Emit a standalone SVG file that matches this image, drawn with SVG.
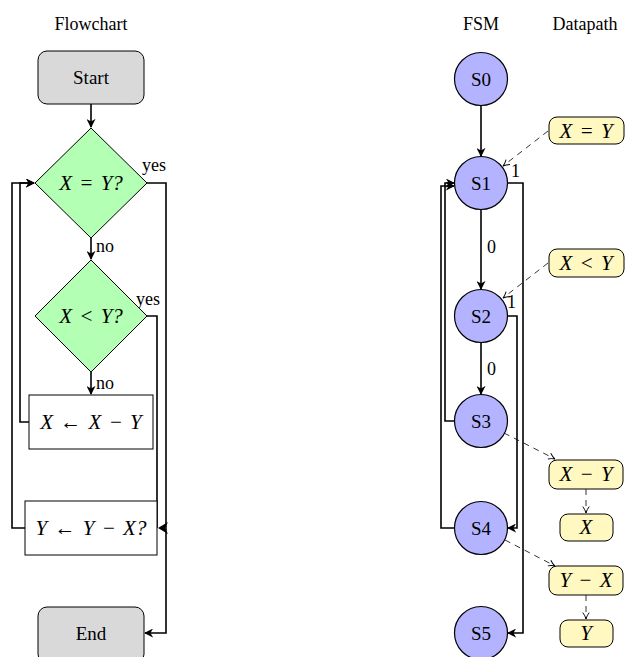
<svg xmlns="http://www.w3.org/2000/svg" width="629" height="657" viewBox="0 0 629 657">
<defs>
<marker id="ah" viewBox="0 0 10 10" refX="9" refY="5" markerWidth="9" markerHeight="9" markerUnits="userSpaceOnUse" orient="auto">
<path d="M0,0 L10,5 L0,10 L3,5 Z" fill="#000"/>
</marker>
<marker id="ah2" viewBox="0 0 10 10" refX="9" refY="5" markerWidth="8" markerHeight="8" markerUnits="userSpaceOnUse" orient="auto">
<path d="M1,1 Q5,4 9,5 Q5,6 1,9" fill="none" stroke="#000" stroke-width="1.2"/>
</marker>
</defs>
<style>
text{font-family:"Liberation Serif","DejaVu Serif",serif;fill:#000}
.t{font-size:19px}
.h{font-size:18px}
.m{font-size:21px;font-style:italic;word-spacing:2px}
.lab{font-size:18px}
.term{fill:#d9d9d9;stroke:#000;stroke-width:1}
.dec{fill:#b3ffb3;stroke:#000;stroke-width:1}
.proc{fill:#fff;stroke:#000;stroke-width:1}
.st{fill:#b3b3ff;stroke:#000;stroke-width:1.2}
.dp{fill:#fff8c0;stroke:#000;stroke-width:1}
.c{fill:none;stroke:#000;stroke-width:1.6;marker-end:url(#ah)}
.d{fill:none;stroke:#000;stroke-width:0.8;stroke-dasharray:6,5;marker-end:url(#ah2)}
</style>
<g id="titles">
<text class="h" x="91" y="30" text-anchor="middle">Flowchart</text>
<text class="h" x="481" y="30" text-anchor="middle">FSM</text>
<text class="h" x="585" y="30" text-anchor="middle">Datapath</text>
</g>
<g id="connectors">
<path class="c" d="M91,104 V127"/>
<path class="c" d="M91,238 V259"/>
<path class="c" d="M91,372 V394"/>
<path class="c" d="M147,183 H166 V633 H145"/>
<path fill="none" stroke="#000" stroke-width="1.6" d="M147,316 H157 V528"/>
<path d="M158,528 L168,522 L165,528 L168,534 Z" fill="#000"/>
<path class="c" d="M29,422 H20 V183 H34"/>
<path class="c" d="M25,528 H12 V183 H34"/>
<text class="lab" x="96" y="252">no</text>
<text class="lab" x="96" y="389">no</text>
<text class="lab" x="142" y="171">yes</text>
<text class="lab" x="136" y="305">yes</text>
<path class="c" d="M481,105 V156"/>
<path class="c" d="M481,209 V289"/>
<path class="c" d="M481,342 V394"/>
<path class="c" d="M507,183 H523 V633 H508"/>
<path class="c" d="M507,316 H517 V528 H508"/>
<path class="c" d="M455,421 H445 V183 H454"/>
<path class="c" d="M455,528 H441 V186 H454"/>
<text class="lab" x="487" y="253">0</text>
<text class="lab" x="487" y="375">0</text>
<text class="lab" x="511" y="177">1</text>
<text class="lab" x="507" y="308">1</text>
<path class="d" d="M548,131 L503,166"/>
<path class="d" d="M548,263 L503,298"/>
<path class="d" d="M504,433 L555,459"/>
<path class="d" d="M505,540 L555,566"/>
<path class="d" d="M586,489 V513"/>
<path class="d" d="M586,595 V619"/>
</g>
<g id="start"><rect class="term" x="38" y="51" width="106" height="53" rx="9"/><text class="t" x="91" y="84" text-anchor="middle">Start</text></g>
<g id="d1"><polygon class="dec" points="91,128 147,183 91,238 35,183"/><text class="m" x="91" y="190" text-anchor="middle">X = Y?</text></g>
<g id="d2"><polygon class="dec" points="91,260 147,316 91,372 35,316"/><text class="m" x="91" y="323" text-anchor="middle">X &lt; Y?</text></g>
<g id="p1"><rect class="proc" x="29" y="395" width="124" height="54"/><text class="m" x="91" y="429" text-anchor="middle">X ← X − Y</text></g>
<g id="p2"><rect class="proc" x="25" y="501" width="132" height="54"/><text class="m" x="91" y="535" text-anchor="middle">Y ← Y − X?</text></g>
<g id="end"><rect class="term" x="38" y="607" width="106" height="56" rx="9"/><text class="t" x="91" y="640" text-anchor="middle">End</text></g>
<g id="S0"><circle class="st" cx="481" cy="79" r="26.5"/><text class="t" x="481" y="86" text-anchor="middle">S0</text></g>
<g id="S1"><circle class="st" cx="481" cy="183" r="26.5"/><text class="t" x="481" y="190" text-anchor="middle">S1</text></g>
<g id="S2"><circle class="st" cx="481" cy="316" r="26.5"/><text class="t" x="481" y="323" text-anchor="middle">S2</text></g>
<g id="S3"><circle class="st" cx="481" cy="421" r="26.5"/><text class="t" x="481" y="428" text-anchor="middle">S3</text></g>
<g id="S4"><circle class="st" cx="481" cy="528" r="26.5"/><text class="t" x="481" y="535" text-anchor="middle">S4</text></g>
<g id="S5"><circle class="st" cx="481" cy="633" r="26.5"/><text class="t" x="481" y="640" text-anchor="middle">S5</text></g>
<g id="dpXeqY"><rect class="dp" x="549" y="117" width="75" height="27" rx="8"/><text class="m" x="586" y="138" text-anchor="middle">X = Y</text></g>
<g id="dpXltY"><rect class="dp" x="549" y="249" width="75" height="28" rx="8"/><text class="m" x="586" y="270" text-anchor="middle">X &lt; Y</text></g>
<g id="dpXmY"><rect class="dp" x="549" y="460" width="74" height="29" rx="8"/><text class="m" x="586" y="481" text-anchor="middle">X − Y</text></g>
<g id="dpX"><rect class="dp" x="560" y="514" width="53" height="27" rx="8"/><text class="m" x="586" y="534" text-anchor="middle">X</text></g>
<g id="dpYmX"><rect class="dp" x="549" y="566" width="74" height="29" rx="8"/><text class="m" x="586" y="587" text-anchor="middle">Y − X</text></g>
<g id="dpY"><rect class="dp" x="560" y="620" width="53" height="27" rx="8"/><text class="m" x="586" y="640" text-anchor="middle">Y</text></g>
</svg>
